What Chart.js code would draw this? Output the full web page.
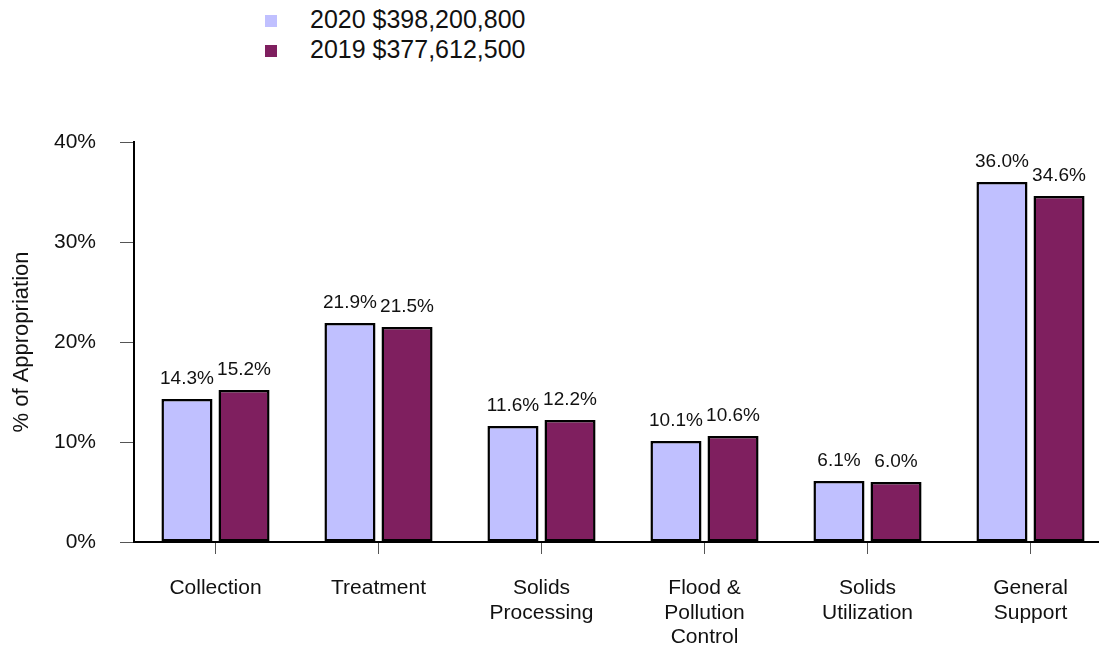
<!DOCTYPE html>
<html>
<head>
<meta charset="utf-8">
<script src="https://cdn.jsdelivr.net/npm/chart.js@4"></script>
<style>
  html, body { margin: 0; padding: 0; background: #fff; overflow: hidden; }
  #wrap { position: relative; width: 1099px; height: 650px; overflow: hidden; }
  #box { position: absolute; left: 0; top: 0; width: 1112px; height: 650px; }
  #legend { position: absolute; left: 265px; top: 4px; font-family: "Liberation Sans", Arial, sans-serif; font-size: 25px; color: #111; }
  #legend div { height: 30px; line-height: 30px; white-space: nowrap; }
  #legend span.sw { display: inline-block; width: 12px; height: 12px; margin-right: 33px; vertical-align: 1px; }
</style>
</head>
<body>
<div id="wrap">
  <div id="legend"></div>
  <div id="box"><canvas id="myChart"></canvas></div>
</div>
<script>
// kategori dan nilai (persen)
var categories = [['Collection'], ['Treatment'], ['Solids', 'Processing'], ['Flood &', 'Pollution', 'Control'], ['Solids', 'Utilization'], ['General', 'Support']];
var values2020 = [14.3, 21.9, 11.6, 10.1, 6.1, 36.0];
var values2019 = [15.2, 21.5, 12.2, 10.6, 6.0, 34.6];
var seriesNames = ['2020 $398,200,800', '2019 $377,612,500'];
var yTicks = [0, 10, 20, 30, 40];

var colors = ['#c0c0ff', '#7f1f5f'];
var font = '"Liberation Sans", Arial, sans-serif';

// legenda manual
var legend = document.getElementById('legend');
seriesNames.forEach(function (name, i) {
  var row = document.createElement('div');
  row.innerHTML = '<span class="sw" style="background:' + colors[i] + '"></span>' + name;
  legend.appendChild(row);
});

// label di atas batang
var barLabels = {
  id: 'barLabels',
  afterDatasetsDraw: function (chart) {
    var ctx = chart.ctx;
    ctx.save();
    ctx.font = '19px ' + font;
    ctx.fillStyle = '#111';
    ctx.textAlign = 'center';
    ctx.textBaseline = 'alphabetic';
    chart.data.datasets.forEach(function (ds, i) {
      chart.getDatasetMeta(i).data.forEach(function (bar, j) {
        ctx.fillText(ds.data[j].toFixed(1) + '%', bar.x, bar.y - 15);
      });
    });
    ctx.restore();
  }
};

var ctx = document.getElementById('myChart').getContext('2d');
var myChart = new Chart(ctx, {
  type: 'bar',
  data: {
    labels: categories,
    datasets: [{
      label: seriesNames[0],
      data: values2020,
      backgroundColor: colors[0],
      borderColor: '#000',
      borderWidth: 2.5,
      borderSkipped: false,
      barPercentage: 0.895,
      categoryPercentage: 0.70
    }, {
      label: seriesNames[1],
      data: values2019,
      backgroundColor: colors[1],
      borderColor: '#000',
      borderWidth: 2.5,
      borderSkipped: false,
      barPercentage: 0.895,
      categoryPercentage: 0.70
    }]
  },
  options: {
    responsive: true,
    maintainAspectRatio: false,
    animation: false,
    layout: { padding: { top: 142, left: 9, right: 0, bottom: 0 } },
    plugins: {
      legend: { display: false },
      tooltip: { enabled: false }
    },
    scales: {
      x: {
        afterFit: function (s) { s.height = 108; },
        grid: { offset: false, drawOnChartArea: false, drawTicks: true, tickLength: 12, tickColor: '#555', tickWidth: 1 },
        border: { color: '#000', width: 2 },
        ticks: { color: '#111', font: { family: font, size: 21, lineHeight: 1.167 }, padding: 22, maxRotation: 0, autoSkip: false }
      },
      y: {
        min: 0,
        max: 40,
        afterFit: function (s) { s.width = 125; },
        afterBuildTicks: function (s) { s.ticks = yTicks.map(function (v) { return { value: v }; }); },
        grid: { drawOnChartArea: false, drawTicks: true, tickLength: 14, tickColor: '#555', tickWidth: 1 },
        border: { color: '#000', width: 2 },
        title: { display: true, text: '% of Appropriation', color: '#111', font: { family: font, size: 22 }, padding: { top: 0, bottom: 8 } },
        ticks: { color: '#111', font: { family: font, size: 21 }, padding: 24, callback: function (v) { return v + '%'; } }
      }
    }
  },
  plugins: [barLabels]
});
</script>
</body>
</html>
